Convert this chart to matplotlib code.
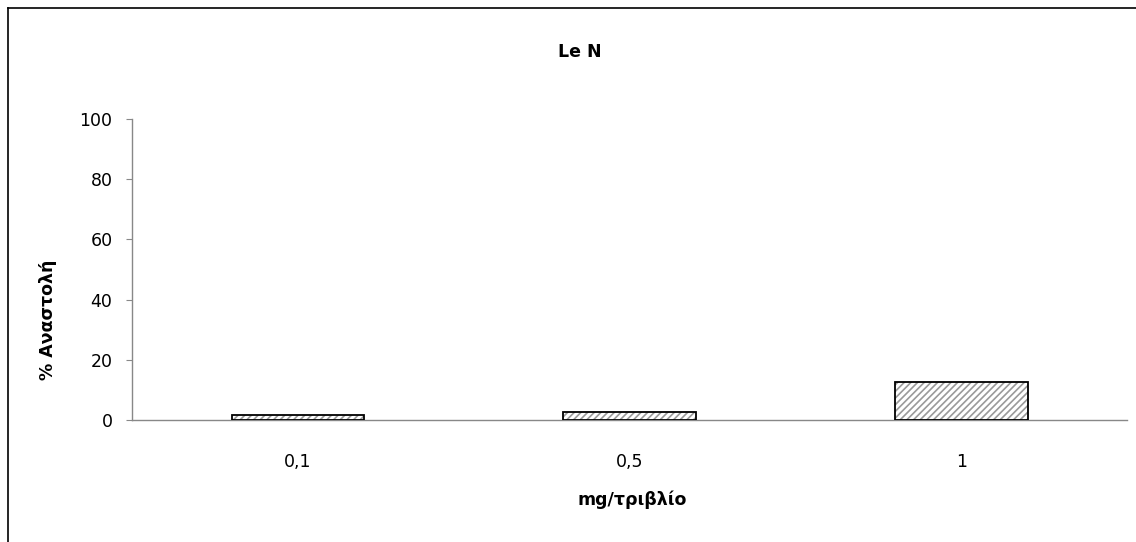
import matplotlib
matplotlib.use("Agg")
import matplotlib.pyplot as plt
from matplotlib.lines import Line2D

plt.rcParams['font.family'] = ['DejaVu Sans']
plt.rcParams['hatch.linewidth'] = 1.2

categories = ['0,1', '0,5', '1']
inhibition = [1.5, 2.5, 12.5]
yticks = [0, 20, 40, 60, 80, 100]

W, H = 1136, 542
fig = plt.figure(figsize=(W / 100, H / 100), dpi=100)
ax = fig.add_axes([132 / W, 1 - 420 / H, (1127 - 132) / W, (420 - 119) / H])

x = list(range(len(categories)))
# grey diagonal hatch fill, then a black outline on top
ax.bar(x, inhibition, width=0.4, color='white', edgecolor='#9a9a9a',
       linewidth=0, hatch='/////', zorder=3)
ax.bar(x, inhibition, width=0.4, fill=False, edgecolor='black',
       linewidth=1.3, zorder=4)

ax.set_xlim(-0.5, len(categories) - 0.5)
ax.set_ylim(0, 100)
ax.set_yticks(yticks)
ax.set_yticklabels([str(t) for t in yticks], fontsize=12.5)
ax.set_xticks(x)
ax.set_xticklabels(categories, fontsize=12.5)
ax.tick_params(axis='x', length=0, pad=24)
ax.tick_params(axis='y', length=4, color='#888888', direction='out', pad=10)

for side in ('top', 'right'):
    ax.spines[side].set_visible(False)
for side in ('left', 'bottom'):
    ax.spines[side].set_color('#888888')
    ax.spines[side].set_linewidth(1.0)

fig.text(580 / W, 1 - 52 / H, 'Le N', fontsize=12.5, fontweight='bold',
         ha='center', va='center')
fig.text(632 / W, 1 - 500 / H, 'mg/τριβλίο', fontsize=12.5, fontweight='bold',
         ha='center', va='center')
fig.text(48 / W, 1 - 320 / H, '% Αναστολή', fontsize=12.5, fontweight='bold',
         ha='center', va='center', rotation=90)

# outer chart frame (left and top edges)
fig.add_artist(Line2D([8 / W, 8 / W], [0, 1 - 8 / H],
                      transform=fig.transFigure, color='black', lw=1.2))
fig.add_artist(Line2D([8 / W, 1], [1 - 8 / H, 1 - 8 / H],
                      transform=fig.transFigure, color='black', lw=1.2))

fig.savefig('out.png', dpi=100, facecolor='white')
